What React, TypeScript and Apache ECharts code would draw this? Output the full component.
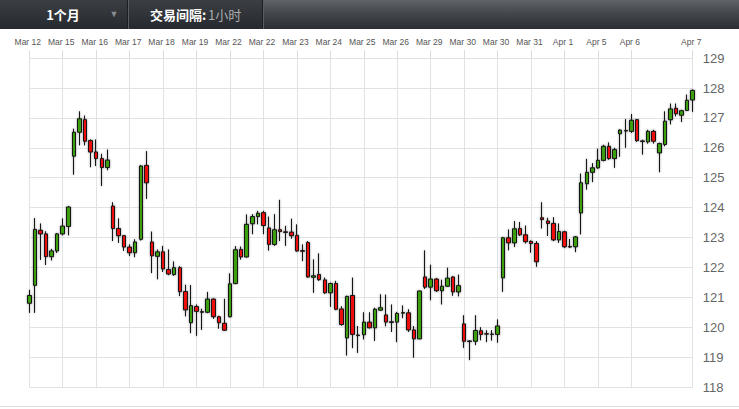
import React, { useEffect, useRef } from "react";
import * as echarts from "echarts";

// hourly candles, index 0..119
const opens = [
  120.80, 121.40, 123.24, 123.12, 122.36, 122.55, 123.12, 123.37, 125.72, 126.52,
  126.94, 126.24, 125.86, 125.64, 125.34, 124.05, 123.30, 123.06, 122.68, 122.49,
  122.94, 125.41, 122.85, 122.37, 122.52, 121.93, 121.76, 121.99, 121.19, 120.15,
  120.69, 120.52, 120.50, 120.94, 120.35, 120.13, 120.35, 121.46, 122.60, 122.35,
  123.46, 123.70, 123.83, 123.32, 122.77, 123.26, 123.19, 123.18, 123.07, 122.56,
  122.83, 121.67, 121.76, 121.58, 121.15, 121.46, 120.61, 119.64, 121.06, 119.74,
  119.75, 120.17, 119.98, 120.57, 120.41, 120.18, 120.17, 120.47, 120.48, 119.91,
  119.61, 121.68, 121.34, 121.61, 121.22, 121.37, 121.68, 121.18, 120.11, 119.54,
  119.53, 119.88, 119.78, 119.77, 119.76, 121.65, 122.99, 122.82, 123.30, 123.09,
  122.87, 122.80, 123.66, 123.55, 123.47, 122.92, 123.19, 122.70, 122.69, 123.82,
  124.80, 125.18, 125.33, 125.58, 126.05, 125.64, 126.47, 126.58, 126.55, 126.94,
  126.23, 126.20, 126.55, 125.83, 126.11, 126.94, 127.32, 127.09, 127.25, 127.60,
];
const closes = [
  121.06, 123.27, 123.12, 122.36, 122.55, 123.12, 123.38, 124.02, 126.52, 126.97,
  126.22, 125.86, 125.64, 125.34, 125.59, 123.30, 123.06, 122.68, 122.49, 122.85,
  125.39, 124.83, 122.39, 122.52, 121.95, 121.78, 121.99, 121.19, 120.58, 120.72,
  120.53, 120.50, 120.94, 120.35, 120.15, 119.90, 121.45, 122.59, 122.35, 123.44,
  123.70, 123.81, 123.40, 122.77, 123.26, 123.20, 123.17, 123.06, 122.55, 122.54,
  121.68, 121.72, 121.59, 121.15, 121.46, 120.60, 120.09, 121.03, 119.76, 119.72,
  120.17, 119.98, 120.60, 120.65, 120.17, 120.16, 120.46, 120.49, 119.91, 119.61,
  121.21, 121.34, 121.61, 121.22, 121.37, 121.64, 121.18, 121.39, 119.53, 119.52,
  119.89, 119.76, 119.77, 119.76, 120.04, 122.99, 122.82, 123.29, 123.09, 122.86,
  122.80, 122.19, 123.60, 123.47, 122.92, 123.20, 122.69, 122.68, 123.02, 124.83,
  125.18, 125.33, 125.58, 126.05, 125.64, 125.94, 126.59, 126.56, 126.92, 126.24,
  126.21, 126.55, 126.22, 126.14, 126.89, 127.30, 127.14, 127.24, 127.59, 127.92,
];
const lows = [
  120.48, 120.48, 122.25, 122.08, 122.23, 122.48, 123.07, 123.07, 125.10, 126.08,
  126.08, 125.35, 125.39, 124.72, 125.25, 122.88, 122.82, 122.55, 122.38, 122.34,
  122.90, 124.29, 121.81, 121.60, 121.85, 121.74, 121.72, 121.04, 120.36, 119.80,
  119.71, 119.91, 120.47, 120.28, 119.95, 119.88, 120.33, 121.44, 122.26, 122.33,
  123.11, 123.44, 123.11, 122.56, 122.72, 122.88, 122.72, 122.96, 122.53, 122.21,
  121.66, 121.15, 121.55, 121.12, 120.68, 120.57, 120.05, 119.05, 119.30, 119.14,
  119.59, 119.96, 119.54, 120.55, 120.03, 119.84, 119.50, 120.30, 119.84, 118.98,
  119.60, 121.28, 120.90, 121.18, 120.76, 121.35, 121.05, 121.03, 119.31, 118.90,
  119.40, 119.56, 119.50, 119.55, 119.48, 121.18, 122.57, 122.68, 123.05, 122.80,
  122.49, 122.02, 123.30, 123.05, 122.88, 122.82, 122.65, 122.65, 122.51, 123.10,
  124.60, 124.85, 125.30, 125.55, 125.60, 125.33, 125.70, 126.00, 126.50, 126.20,
  125.77, 126.14, 126.14, 125.18, 126.05, 126.78, 127.05, 126.86, 127.23, 127.20,
];
const highs = [
  121.25, 123.65, 123.47, 123.21, 122.62, 123.15, 123.64, 124.05, 126.64, 127.22,
  127.08, 126.28, 126.28, 125.80, 125.94, 124.18, 123.64, 123.08, 122.77, 122.94,
  125.42, 125.89, 123.20, 122.60, 122.72, 122.60, 122.20, 122.04, 121.42, 121.41,
  120.76, 120.62, 121.18, 120.96, 120.38, 120.95, 121.80, 122.71, 122.70, 123.77,
  123.78, 123.89, 123.89, 123.70, 123.78, 124.26, 123.39, 123.63, 123.44, 122.77,
  122.88, 122.27, 122.47, 121.66, 121.49, 121.55, 120.70, 121.05, 121.66, 120.04,
  120.50, 120.50, 120.65, 121.10, 121.09, 120.76, 120.51, 120.73, 120.60, 120.04,
  121.22, 122.57, 122.09, 121.64, 121.59, 121.99, 121.70, 121.76, 120.40, 119.56,
  120.40, 120.00, 119.90, 119.90, 120.26, 123.02, 123.27, 123.55, 123.52, 123.40,
  122.90, 122.88, 124.18, 123.66, 123.68, 123.47, 123.22, 122.95, 123.05, 125.14,
  125.63, 125.49, 125.97, 126.10, 126.18, 126.00, 126.62, 126.96, 127.13, 126.96,
  126.27, 126.60, 126.60, 126.17, 127.22, 127.48, 127.48, 127.27, 127.78, 127.95,
];

// date labels and the candle index each one sits on
const tickLabels = [
  "Mar 12", "Mar 15", "Mar 16", "Mar 17", "Mar 18", "Mar 19", "Mar 22", "Mar 22",
  "Mar 23", "Mar 24", "Mar 25", "Mar 26", "Mar 29", "Mar 30", "Mar 30", "Mar 31",
  "Apr 1", "Apr 5", "Apr 6", "Apr 7",
];
const tickIndex = [0, 6, 12, 18, 24, 30, 36, 42, 48, 54, 60, 66, 72, 78, 84, 90, 96, 102, 108, 119];

const yMin = 118;
const yMax = 129;

export default function App() {
  const ref = useRef<HTMLDivElement>(null);

  useEffect(() => {
    document.body.style.margin = "0";
    const chart = echarts.init(ref.current!, null, { renderer: "svg" });

    const labelAt: Record<number, string> = {};
    tickIndex.forEach((idx, k) => (labelAt[idx] = tickLabels[k]));
    const categories = opens.map((_, i) => "h" + i);
    const data = opens.map((o, i) => [o, closes[i], lows[i], highs[i]]);
    const isTick = (index: number) => labelAt[index] !== undefined;

    const barGrad = {
      type: "linear", x: 0, y: 0, x2: 0, y2: 1,
      colorStops: [
        { offset: 0, color: "#606368" },
        { offset: 0.45, color: "#44474c" },
        { offset: 1, color: "#2c2f34" },
      ],
    };
    const boxGrad = {
      type: "linear", x: 0, y: 0, x2: 0, y2: 1,
      colorStops: [
        { offset: 0, color: "#3b3e43" },
        { offset: 1, color: "#26292d" },
      ],
    };

    chart.setOption({
      animation: false,
      backgroundColor: "#ffffff",
      textStyle: { fontFamily: "'Liberation Sans', Arial, sans-serif" },
      grid: { left: 29.3, right: 46.3, top: 58.1, bottom: 22 },
      xAxis: {
        type: "category",
        position: "top",
        data: categories,
        boundaryGap: false,
        axisLine: { show: false },
        axisTick: {
          show: true,
          interval: (i: number) => isTick(i),
          length: 8,
          lineStyle: { color: "#dcdcdc" },
        },
        axisLabel: {
          interval: (i: number) => isTick(i),
          formatter: (_v: string, i: number) => labelAt[i] || "",
          showMinLabel: true,
          showMaxLabel: true,
          hideOverlap: false,
          color: "#555",
          fontSize: 8.5,
          margin: 12,
          padding: [0, 3, 0, 0],
        },
        splitLine: {
          show: true,
          interval: (i: number) => isTick(i),
          lineStyle: { color: "#e2e2e2" },
        },
      },
      yAxis: {
        type: "value",
        position: "right",
        min: yMin,
        max: yMax,
        interval: 1,
        axisLine: { show: false },
        axisTick: { show: false },
        axisLabel: { color: "#666", fontSize: 13, margin: 10 },
        splitLine: { lineStyle: { color: "#e2e2e2" } },
      },
      series: [
        {
          type: "candlestick",
          data,
          barWidth: 4,
          clip: true,
          itemStyle: {
            color: "#3a9e08",
            color0: "#ee0a0a",
            borderColor: "#141414",
            borderColor0: "#141414",
            borderWidth: 1,
            shadowBlur: 2,
            shadowColor: "rgba(0,0,0,0.45)",
          },
        },
      ],
      graphic: [
        { type: "rect", left: 0, top: 0, shape: { width: 739, height: 29 }, style: { fill: barGrad } },
        { type: "rect", left: 0, top: 0, shape: { width: 127, height: 29 }, style: { fill: boxGrad } },
        { type: "line", shape: { x1: 127.5, y1: 0, x2: 127.5, y2: 29 }, style: { stroke: "#1c1e21", lineWidth: 1 } },
        { type: "line", shape: { x1: 128.5, y1: 0, x2: 128.5, y2: 29 }, style: { stroke: "#5a5d62", lineWidth: 1 } },
        { type: "rect", left: 129, top: 0, shape: { width: 133, height: 29 }, style: { fill: boxGrad } },
        { type: "line", shape: { x1: 262.5, y1: 0, x2: 262.5, y2: 29 }, style: { stroke: "#1c1e21", lineWidth: 1 } },
        { type: "line", shape: { x1: 263.5, y1: 0, x2: 263.5, y2: 29 }, style: { stroke: "#5a5d62", lineWidth: 1 } },
        {
          type: "text", x: 63, y: 14,
          style: {
            text: "1个月", fill: "#ffffff", fontSize: 13, fontWeight: "bold",
            fontFamily: "'Noto Sans CJK SC', sans-serif", align: "center", verticalAlign: "middle",
          },
        },
        {
          type: "text", x: 114, y: 14,
          style: { text: "▼", fill: "#8a8d91", fontSize: 9, align: "center", verticalAlign: "middle" },
        },
        {
          type: "text", x: 150, y: 14,
          style: {
            text: "交易间隔:", fill: "#ffffff", fontSize: 13, fontWeight: "bold",
            fontFamily: "'Noto Sans CJK SC', sans-serif", align: "left", verticalAlign: "middle",
          },
        },
        {
          type: "text", x: 208, y: 14,
          style: {
            text: "1小时", fill: "#a9acb0", fontSize: 13,
            fontFamily: "'Noto Sans CJK SC', sans-serif", align: "left", verticalAlign: "middle",
          },
        },
        { type: "line", shape: { x1: 0, y1: 406.5, x2: 739, y2: 406.5 }, style: { stroke: "#dedede", lineWidth: 1 } },
      ],
    });
    return () => chart.dispose();
  }, []);

  return <div ref={ref} style={{ width: 739, height: 409 }} />;
}
